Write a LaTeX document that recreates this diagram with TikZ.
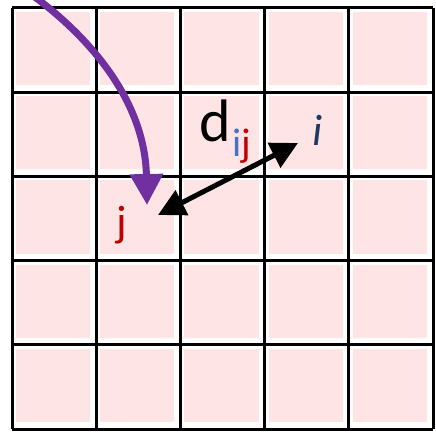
\documentclass[tikz,border=0pt]{standalone}
\usepackage{fontspec}
\setmainfont{Carlito}
\usetikzlibrary{arrows.meta}
\definecolor{cellpink}{HTML}{FFE4E6}
\definecolor{arrowpurple}{HTML}{7030A0}
\definecolor{subblue}{HTML}{4472C4}
\definecolor{darkred}{HTML}{C00000}
\definecolor{navy}{HTML}{1F3864}
\begin{document}
\begin{tikzpicture}[x=1pt,y=-1pt,
  cellfill/.style={fill=cellpink,draw=none},
  gridline/.style={line width=3pt,black},
  lbl/.style={inner sep=0pt,anchor=base}]
\useasboundingbox (0,0) rectangle (436,433);
\clip (0,0) rectangle (436,433);
% cells
\foreach \i in {0,...,4}{
  \foreach \j in {0,...,4}{
    \fill[cellfill] ({12+84.2*\i+4},{8+84.2*\j+4}) rectangle ({12+84.2*(\i+1)-6},{8+84.2*(\j+1)-7});
  }
}
% grid
\foreach \i in {0,...,5}{
  \draw[gridline] ({12+84.2*\i},8) -- ({12+84.2*\i},429);
  \draw[gridline] (12,{8+84.2*\i}) -- (433,{8+84.2*\i});
}
% labels
\node[lbl,font=\fontsize{60}{60}\selectfont] (d) at (215,142) {d};
\node[lbl,font=\fontsize{40}{40}\selectfont,anchor=base west] (sub) at (232,156) {\textcolor{subblue}{i}\textcolor{darkred}{j}};
\node[lbl,font=\fontsize{44}{44}\selectfont\itshape,text=navy] (i) at (318,145) {i};
\node[lbl,font=\fontsize{44}{44}\selectfont,text=darkred] (j) at (122,236) {j};
% arrows
\coordinate (start) at (28,-8);
\coordinate (jtarget) at (147,205);
\coordinate (ja) at (158,215);
\coordinate (ia) at (298,143);
\draw[arrowpurple,line width=7pt,-{Triangle[length=31pt,width=32pt]}] (start) .. controls (95,40) and (145,105) .. (jtarget);
\draw[black,line width=5pt,{Triangle[length=27pt,width=27pt]}-{Triangle[length=27pt,width=27pt]}] (ja) -- (ia);
\end{tikzpicture}
\end{document}
